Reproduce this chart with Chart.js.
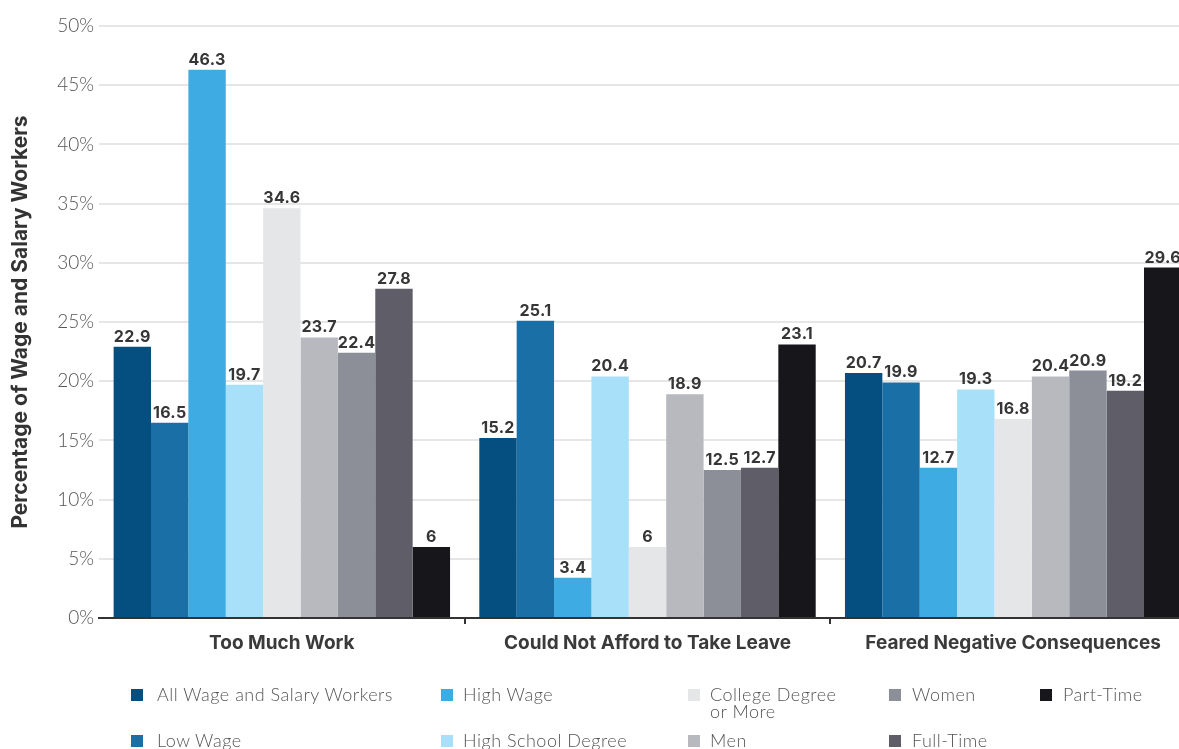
<!DOCTYPE html>
<html>
<head>
<meta charset="utf-8">
<script src="https://cdn.jsdelivr.net/npm/chart.js@4.4.1/dist/chart.umd.min.js"></script>
<style>
  body { margin: 0; background: #fff; overflow: hidden; }
  .wrap { position: relative; width: 1200px; height: 749px; }
  #legend {
    position: absolute; left: 0; top: 0; width: 100%; height: 100%;
    pointer-events: none;
    font-family: Lato, "Noto Sans", sans-serif; font-weight: 300; font-size: 18px;
    letter-spacing: 0.5px; color: #555;
  }
  .legend-item { position: absolute; display: flex; align-items: flex-start; }
  .legend-box { width: 12px; height: 12px; margin-top: 3px; flex: none; }
  .legend-text { line-height: 17px; }
</style>
</head>
<body>
<div class="wrap">
  <canvas id="chart" width="1200" height="749"></canvas>
  <div id="legend"></div>
</div>
<script>
const categories = ["Too Much Work", "Could Not Afford to Take Leave", "Feared Negative Consequences"];
const seriesNames = [
  "All Wage and Salary Workers", "Low Wage", "High Wage", "High School Degree",
  "College Degree or More", "Men", "Women", "Full-Time", "Part-Time"
];
const seriesColors = [
  "#044f80", "#1a70a6", "#3eabe2", "#a9e0f9",
  "#e5e6e8", "#b8b9be", "#8c8e98", "#5e5d68", "#17171b"
];
// one value per series, in the order of seriesNames
const tooMuchWork = [22.9, 16.5, 46.3, 19.7, 34.6, 23.7, 22.4, 27.8, 6];
const couldNotAfford = [15.2, 25.1, 3.4, 20.4, 6, 18.9, 12.5, 12.7, 23.1];
const fearedConsequences = [20.7, 19.9, 12.7, 19.3, 16.8, 20.4, 20.9, 19.2, 29.6];
const yTitle = "Percentage of Wage and Salary Workers";

const datasets = seriesNames.map((name, i) => ({
  label: name,
  data: [tooMuchWork[i], couldNotAfford[i], fearedConsequences[i]],
  backgroundColor: seriesColors[i],
  borderWidth: 0,
  categoryPercentage: 0.92,
  barPercentage: 1
}));

// numbers over each bar
const valueLabels = {
  id: "valueLabels",
  afterDatasetsDraw(chart) {
    const ctx = chart.ctx;
    ctx.save();
    ctx.font = "bold 16px Inter, 'Noto Sans', sans-serif";
    ctx.letterSpacing = "0.3px";
    ctx.fillStyle = "#363636";
    ctx.textAlign = "center";
    ctx.textBaseline = "alphabetic";
    chart.data.datasets.forEach((ds, i) => {
      chart.getDatasetMeta(i).data.forEach((bar, j) => {
        ctx.fillText(String(ds.data[j]), bar.x, bar.y - 5);
      });
    });
    ctx.restore();
  }
};

function main() {
  const canvas = document.querySelector("#chart");

  new Chart(canvas, {
    type: "bar",
    data: { labels: categories, datasets: datasets },
    options: {
      responsive: false,
      devicePixelRatio: 1,
      animation: false,
      layout: { padding: { top: 26, right: 4, bottom: 86, left: 0 } },
      plugins: { legend: { display: false }, tooltip: { enabled: false } },
      scales: {
        x: {
          grid: {
            offset: true,
            drawOnChartArea: false,
            tickLength: 6,
            lineWidth: 2,
            // only the two inner category dividers get a tick
            color: (c) => (c.index === 1 || c.index === 2 ? "#333" : "rgba(0,0,0,0)")
          },
          border: { display: true, color: "#333", width: 2 },
          ticks: {
            padding: 8,
            color: "#3a3a3a",
            font: { family: "Inter, 'Noto Sans', sans-serif", weight: "bold", size: 19 }
          },
          afterFit: (s) => { s.height = 45; }
        },
        y: {
          min: 0,
          max: 50,
          ticks: {
            stepSize: 5,
            padding: 5,
            color: "#555",
            font: { family: "Lato, 'Noto Sans', sans-serif", weight: 300, size: 19 },
            callback: (v) => v + "%"
          },
          grid: { color: "#e6e6e6", lineWidth: 2, drawTicks: false },
          border: { display: false },
          title: {
            display: true,
            text: yTitle,
            color: "#333",
            font: { family: "Inter, 'Noto Sans', sans-serif", weight: "bold", size: 21 },
            padding: { top: 8, bottom: 0 }
          },
          afterFit: (s) => { s.width = 99; }
        }
      }
    },
    plugins: [valueLabels]
  });

  renderLegend();
}

// legend laid out in columns of two, column by column
function renderLegend() {
  const legend = document.querySelector("#legend");
  const colLeft = [131, 441, 688, 889, 1040];
  const textGap = [14, 10, 10, 11, 11];
  const textWidth = [280, 230, 140, 140, 140];
  const rowTop = [686, 732];

  seriesNames.forEach((name, i) => {
    const col = Math.floor(i / 2);
    const row = i % 2;
    const item = document.createElement("div");
    item.className = "legend-item";
    item.style.left = colLeft[col] + "px";
    item.style.top = rowTop[row] + "px";
    item.innerHTML = `<span class="legend-box" style="background:${seriesColors[i]};margin-right:${textGap[col]}px"></span>
      <span class="legend-text" style="max-width:${textWidth[col]}px">${name}</span>`;
    legend.appendChild(item);
  });
}

main();
</script>
</body>
</html>
